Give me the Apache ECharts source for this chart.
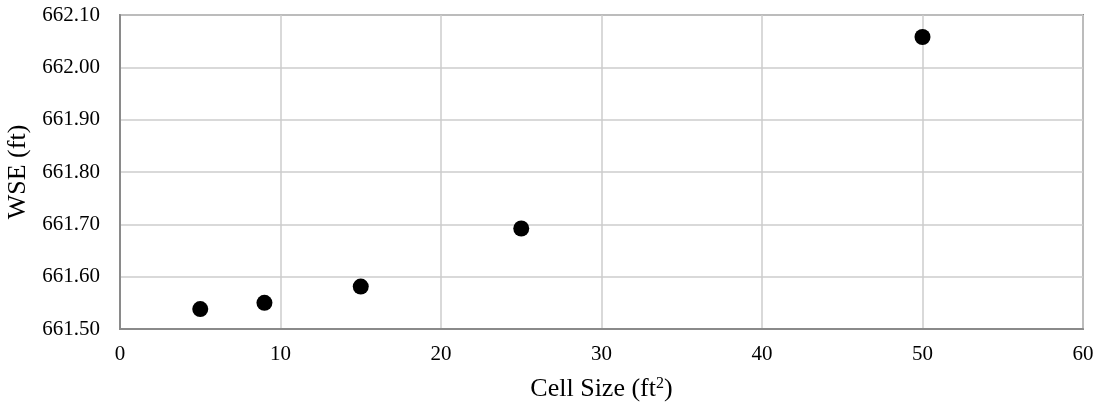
<!DOCTYPE html>
<html>
<head>
<meta charset="utf-8">
<script src="https://cdn.jsdelivr.net/npm/echarts@6/dist/echarts.min.js"></script>
<style>
  html, body { margin: 0; padding: 0; background: #fff; }
  #chart { width: 1104px; height: 411px; }
</style>
</head>
<body>
<div id="chart"></div>
<script>
// cell size (ft^2) and water surface elevation (ft)
var cellSizes = [5, 9, 15, 25, 50];
var wseValues = [661.538, 661.550, 661.581, 661.692, 662.058];
var xTicks = [0, 10, 20, 30, 40, 50, 60];
var yTicks = [661.50, 661.60, 661.70, 661.80, 661.90, 662.00, 662.10];

var font = 'Liberation Serif';
var chart = echarts.init(document.getElementById('chart'));

var points = cellSizes.map(function (x, i) { return [x, wseValues[i]]; });

var option = {
  animation: false,
  grid: {
    left: 120, right: 21, top: 15, bottom: 82,
    outerBoundsMode: 'none',
    show: true,
    borderColor: '#8a8a8a',
    borderWidth: 2
  },
  xAxis: {
    type: 'value',
    min: xTicks[0],
    max: xTicks[xTicks.length - 1],
    interval: 10,
    name: 'Cell Size (ft{sup|2})',
    nameLocation: 'middle',
    nameGap: 47,
    nameTextStyle: {
      fontFamily: font, fontSize: 26, color: '#000',
      rich: {
        sup: { fontFamily: font, fontSize: 16, color: '#000', padding: [0, 0, 11, 0] }
      }
    },
    axisLine: { show: true, lineStyle: { color: '#8a8a8a', width: 2 } },
    axisTick: { show: false },
    axisLabel: { fontFamily: font, fontSize: 21, color: '#000', margin: 15 },
    splitLine: { show: true, lineStyle: { color: '#cccccc', width: 1.5 } }
  },
  yAxis: {
    type: 'value',
    min: yTicks[0],
    max: yTicks[yTicks.length - 1],
    interval: 0.1,
    name: 'WSE (ft)',
    nameLocation: 'middle',
    nameGap: 88,
    nameTextStyle: { fontFamily: font, fontSize: 26, color: '#000' },
    axisLine: { show: true, lineStyle: { color: '#8a8a8a', width: 2 } },
    axisTick: { show: false },
    axisLabel: {
      fontFamily: font, fontSize: 21, color: '#000', margin: 20,
      formatter: function (v) { return v.toFixed(2); }
    },
    splitLine: { show: true, lineStyle: { color: '#cccccc', width: 1.5 } }
  },
  series: [{
    type: 'scatter',
    data: points,
    symbol: 'circle',
    symbolSize: 16,
    itemStyle: { color: '#000', opacity: 1 }
  }]
};

chart.setOption(option);
</script>
</body>
</html>
